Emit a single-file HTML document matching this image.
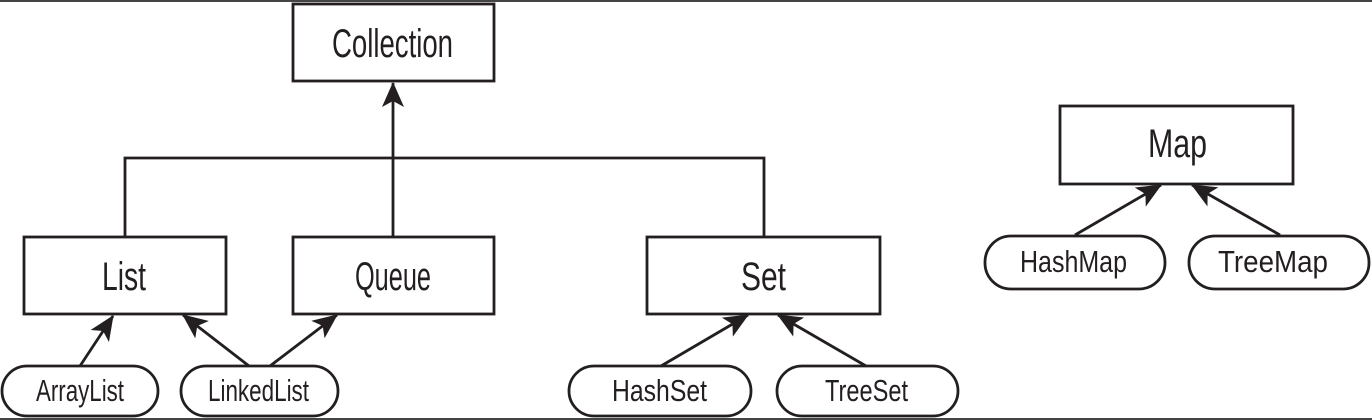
<!DOCTYPE html>
<html><head><meta charset="utf-8"><style>
html,body{margin:0;padding:0;background:#fff;}
svg{display:block;}
text{font-family:"Liberation Sans Narrow","Liberation Sans",sans-serif;fill:#231f20;}
</style></head><body>
<svg width="1372" height="420" viewBox="0 0 1372 420" xmlns="http://www.w3.org/2000/svg">
<defs>
<marker id="a" markerWidth="26" markerHeight="22" refX="24" refY="11" orient="auto" markerUnits="userSpaceOnUse">
<path d="M0,0 L25,11 L0,22 L6,11 Z" fill="#231f20"/>
</marker>
</defs>
<rect x="0" y="0" width="1372" height="2" fill="#444"/>
<rect x="0" y="418" width="1372" height="2" fill="#444"/>
<g fill="none" stroke="#231f20" stroke-width="2.8">
<rect x="293" y="4" width="201" height="77"/>
<rect x="24" y="237" width="202" height="77"/>
<rect x="293" y="237" width="201" height="77"/>
<rect x="647" y="237" width="233" height="77"/>
<rect x="1060" y="106" width="233" height="78"/>
<rect x="2" y="366" width="156" height="50" rx="25"/>
<rect x="181" y="366" width="157" height="50" rx="25"/>
<rect x="569" y="366" width="182" height="50" rx="25"/>
<rect x="777" y="366" width="181" height="50" rx="25"/>
<rect x="985" y="236" width="180" height="53" rx="26"/>
<rect x="1189" y="236" width="180" height="53" rx="26"/>
<polyline points="125,237 125,158 764,158 764,237"/>
<line x1="393" y1="237" x2="393" y2="83" marker-end="url(#a)"/>
<line x1="80" y1="366" x2="113" y2="316" marker-end="url(#a)"/>
<line x1="249" y1="366" x2="183" y2="315" marker-end="url(#a)"/>
<line x1="270" y1="366" x2="337" y2="315" marker-end="url(#a)"/>
<line x1="661" y1="366" x2="748" y2="315" marker-end="url(#a)"/>
<line x1="866" y1="366" x2="778" y2="315" marker-end="url(#a)"/>
<line x1="1075" y1="235" x2="1161" y2="185" marker-end="url(#a)"/>
<line x1="1280" y1="235" x2="1192" y2="185" marker-end="url(#a)"/>
</g>
<text x="332" y="57" font-size="40" textLength="121" lengthAdjust="spacingAndGlyphs">Collection</text>
<text x="102" y="290" font-size="40" textLength="44" lengthAdjust="spacingAndGlyphs">List</text>
<text x="355" y="290" font-size="40" textLength="76" lengthAdjust="spacingAndGlyphs">Queue</text>
<text x="741" y="290" font-size="40" textLength="45" lengthAdjust="spacingAndGlyphs">Set</text>
<text x="1148" y="157" font-size="40" textLength="59" lengthAdjust="spacingAndGlyphs">Map</text>
<text x="36" y="401" font-size="31" textLength="88" lengthAdjust="spacingAndGlyphs">ArrayList</text>
<text x="208" y="401" font-size="31" textLength="101" lengthAdjust="spacingAndGlyphs">LinkedList</text>
<text x="612" y="401" font-size="31" textLength="95" lengthAdjust="spacingAndGlyphs">HashSet</text>
<text x="825" y="401" font-size="31" textLength="83" lengthAdjust="spacingAndGlyphs">TreeSet</text>
<text x="1020" y="272" font-size="31" textLength="107" lengthAdjust="spacingAndGlyphs">HashMap</text>
<text x="1218" y="272" font-size="31" textLength="110" lengthAdjust="spacingAndGlyphs">TreeMap</text>
</svg>
</body></html>
